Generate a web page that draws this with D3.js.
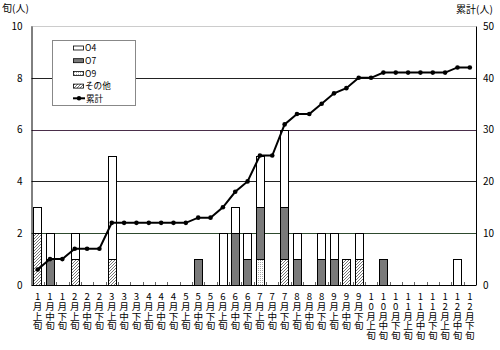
<!DOCTYPE html>
<html><head><meta charset="utf-8">
<script src="https://cdn.jsdelivr.net/npm/d3@7"></script>
<style>
html,body{margin:0;padding:0;background:#fff;}
text{font-family:"Noto Sans CJK JP","DejaVu Sans",sans-serif;}
.vt{writing-mode:vertical-rl;text-orientation:upright;}
</style></head>
<body>
<svg id="c" width="500" height="350"></svg>
<script>
const months = ["1","2","3","4","5","6","7","8","9","10","11","12"];
const parts = ["上","中","下"];
const categories = [];
months.forEach(m => parts.forEach(p => categories.push(m + "月" + p + "旬")));

const seriesNames = ["O4","O7","O9","その他"];
const o4     = [1,1,0,1,0,0,4,0,0,0,0,0,0,0,0,2,1,1,2,0,3,1,0,1,1,0,1,0,0,0,0,0,0,0,1,0];
const o7     = [0,1,0,0,0,0,0,0,0,0,0,0,0,1,0,0,2,1,2,0,2,1,0,1,1,0,0,0,1,0,0,0,0,0,0,0];
const o9     = [0,0,0,0,0,0,0,0,0,0,0,0,0,0,0,0,0,0,1,0,0,0,0,0,0,0,0,0,0,0,0,0,0,0,0,0];
const other  = [2,0,0,1,0,0,1,0,0,0,0,0,0,0,0,0,0,0,0,0,1,0,0,0,0,1,1,0,0,0,0,0,0,0,0,0];
const cumulative = [3,5,5,7,7,7,12,12,12,12,12,12,12,13,13,15,18,20,25,25,31,33,33,35,37,38,40,40,41,41,41,41,41,41,42,42];
const leftTicks = [0,2,4,6,8,10];
const rightTicks = [0,10,20,30,40,50];
const leftTitle = "旬(人)";
const rightTitle = "累計(人)";
const lineName = "累計";

const svg = d3.select("#c");
const L = 31.5, R = 476, T = 26, B = 285;

const defs = svg.append("defs");
const hatch = defs.append("pattern").attr("id","hatch").attr("patternUnits","userSpaceOnUse").attr("width",3).attr("height",3);
hatch.append("rect").attr("width",3).attr("height",3).attr("fill","#fff");
hatch.append("path").attr("d","M0,3 L3,0 M-1,1 L1,-1 M2,4 L4,2").attr("stroke","#777").attr("stroke-width",1);
const dots = defs.append("pattern").attr("id","dots").attr("patternUnits","userSpaceOnUse").attr("width",2).attr("height",2);
dots.append("rect").attr("width",2).attr("height",2).attr("fill","#fff");
dots.append("rect").attr("width",1).attr("height",1).attr("fill","#aaa");

const fills = {"O4":"#fff","O7":"#7a7a7a","O9":"url(#dots)","その他":"url(#hatch)"};

const x = d3.scaleBand().domain(categories).range([L,R]).paddingInner(0.32).paddingOuter(0.16);
const y = d3.scaleLinear().domain([0,10]).range([B,T]);
const y2 = d3.scaleLinear().domain([0,50]).range([B,T]);

// gridlines
const gridColors = {2:"#2e4a2e",4:"#222",6:"#4a2e4a",8:"#222"};
svg.append("g").selectAll("line").data([2,4,6,8]).join("line")
  .attr("x1",L).attr("x2",R).attr("y1",d=>Math.round(y(d))+0.5).attr("y2",d=>Math.round(y(d))+0.5)
  .attr("stroke",d=>gridColors[d]).attr("stroke-width",1);
svg.append("line").attr("x1",L).attr("x2",R).attr("y1",Math.round(y(10))+0.5).attr("y2",Math.round(y(10))+0.5)
  .attr("stroke","#999").attr("stroke-dasharray","1,1");

// stacked bars: bottom -> top : その他, O9, O7, O4
const rows = categories.map((c,i)=>({cat:c,"O4":o4[i],"O7":o7[i],"O9":o9[i],"その他":other[i]}));
const stack = d3.stack().keys(["その他","O9","O7","O4"]);
const layers = stack(rows);
svg.append("g").selectAll("g").data(layers).join("g")
  .attr("fill",d=>fills[d.key])
  .selectAll("rect").data(d=>d.filter(v=>v[1]>v[0])).join("rect")
  .attr("x",d=>Math.round(x(d.data.cat))+0.5)
  .attr("width",Math.round(x.bandwidth()))
  .attr("y",d=>Math.round(y(d[1]))+0.5)
  .attr("height",d=>Math.round(y(d[0]))-Math.round(y(d[1])))
  .attr("stroke","#000").attr("stroke-width",1);

// axes
const axL = svg.append("g").attr("transform",`translate(${L},0)`)
  .call(d3.axisLeft(y).tickValues(leftTicks).tickSize(0).tickPadding(9).tickFormat(d3.format("d")));
const axR = svg.append("g").attr("transform",`translate(${R},0)`)
  .call(d3.axisRight(y2).tickValues(rightTicks).tickSize(0).tickPadding(7).tickFormat(d3.format("d")));
[axL,axR].forEach(a=>{a.select(".domain").attr("stroke","#000");a.selectAll("text").attr("font-size",10).attr("fill","#000");});
svg.append("line").attr("x1",L).attr("x2",R).attr("y1",B+0.5).attr("y2",B+0.5).attr("stroke","#000");

// small tick marks between categories
const step = x.step();
svg.append("g").selectAll("line").data(categories.slice(1)).join("line")
  .attr("x1",d=>Math.round(x(d)-step*0.16)+0.5).attr("x2",d=>Math.round(x(d)-step*0.16)+0.5)
  .attr("y1",B).attr("y2",B-3).attr("stroke","#666");

// x labels (vertical writing)
svg.append("g").selectAll("text").data(categories).join("text")
  .attr("class","vt")
  .attr("font-size",9.6)
  .attr("x",d=>x(d)+x.bandwidth()/2)
  .attr("y",292)
  .attr("fill","#000")
  .text(d=>d);

// cumulative line
const line = d3.line().x((d,i)=>x(categories[i])+x.bandwidth()/2).y(d=>y2(d));
svg.append("path").datum(cumulative).attr("d",line).attr("fill","none").attr("stroke","#000").attr("stroke-width",2);
svg.append("g").selectAll("circle").data(cumulative).join("circle")
  .attr("cx",(d,i)=>x(categories[i])+x.bandwidth()/2).attr("cy",d=>y2(d)).attr("r",2.3).attr("fill","#000");

// titles
svg.append("text").attr("x",2).attr("y",12).attr("font-size",10).text(leftTitle);
svg.append("text").attr("x",456).attr("y",13).attr("font-size",10).text(rightTitle);

// legend
const lg = svg.append("g");
const rowH = 12.7;
lg.append("rect").attr("x",52.5).attr("y",40.5).attr("width",83).attr("height",65).attr("fill","#fff").attr("stroke","#888");
seriesNames.forEach((n,k)=>{
  const yy = 47.5 + k*rowH;
  lg.append("rect").attr("x",73.5).attr("y",yy-1.5).attr("width",10).attr("height",4).attr("fill",fills[n]).attr("stroke","#000").attr("stroke-width",0.8);
  lg.append("text").attr("x",85).attr("y",yy+3.6).attr("font-size",8.6).text(n);
});
const ly = 47.5 + 4*rowH;
lg.append("line").attr("x1",73).attr("x2",85).attr("y1",ly).attr("y2",ly).attr("stroke","#000").attr("stroke-width",2);
lg.append("circle").attr("cx",79).attr("cy",ly).attr("r",2.2).attr("fill","#000");
lg.append("text").attr("x",86).attr("y",ly+3.6).attr("font-size",8.6).text(lineName);
</script>
</body></html>
